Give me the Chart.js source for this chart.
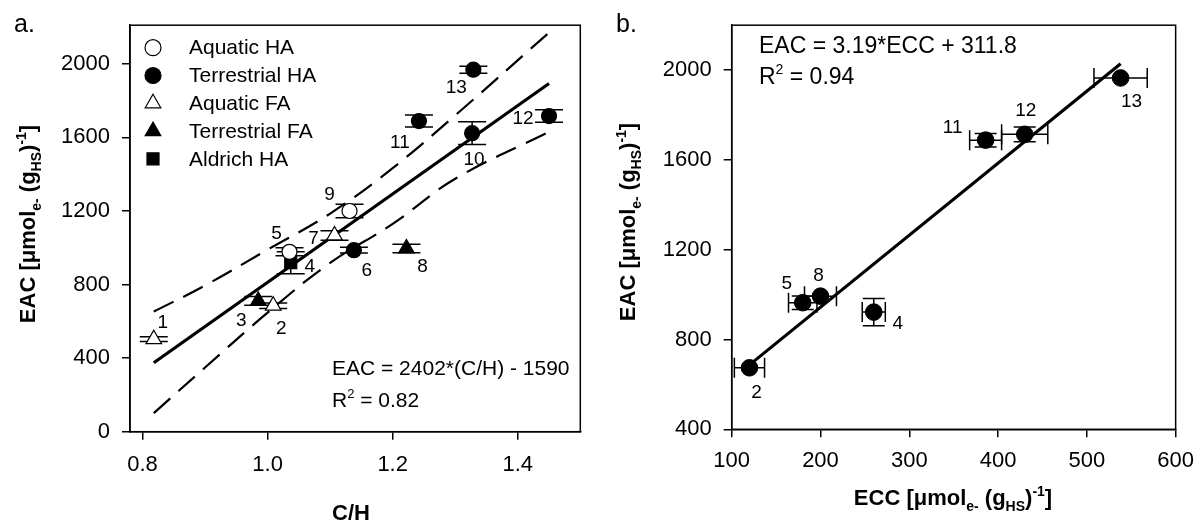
<!DOCTYPE html>
<html>
<head>
<meta charset="utf-8">
<script src="https://cdn.jsdelivr.net/npm/chart.js@4.4.1/dist/chart.umd.min.js"></script>
<style>
  html, body { margin: 0; padding: 0; background: #fff; }
  #wrap { position: relative; width: 1204px; height: 522px; }
  .panel { position: absolute; top: 0; height: 522px; }
  #pa { left: 0; width: 600px; }
  #pb { left: 600px; width: 604px; }
</style>
</head>
<body>
<div id="wrap">
  <div class="panel" id="pa"><canvas id="chartA"></canvas></div>
  <div class="panel" id="pb"><canvas id="chartB"></canvas></div>
</div>
<script>
// ---- panel a: EAC vs C/H ----
const idsA    = [1, 2, 3, 4, 5, 6, 7, 8, 9, 10, 11, 12, 13];
const groupA  = ['Aquatic FA', 'Aquatic FA', 'Terrestrial FA', 'Aldrich HA', 'Aquatic HA', 'Terrestrial HA',
                 'Aquatic FA', 'Terrestrial FA', 'Aquatic HA', 'Terrestrial HA', 'Terrestrial HA', 'Terrestrial HA', 'Terrestrial HA'];
const chA     = [0.818, 1.009, 0.985, 1.037, 1.035, 1.138, 1.107, 1.222, 1.131, 1.327, 1.242, 1.450, 1.329];
const eacA    = [503, 685, 711, 919, 978, 987, 1067, 996, 1200, 1623, 1689, 1716, 1968];
const eacErrA = [13, 15, 24, 60, 22, 16, 26, 23, 37, 62, 33, 34, 19];
const fitXA   = [0.818, 1.45];
const fitYA   = [375, 1893];
const bandXA  = [0.818, 0.9, 1.0, 1.1, 1.2, 1.3, 1.45];
const bandUpA = [653, 795, 990, 1186, 1433, 1720, 2170];
const bandLoA = [101, 349, 647, 918, 1130, 1375, 1630];
const xTicksA = [0.8, 1.0, 1.2, 1.4];
const yTicksA = [0, 400, 800, 1200, 1600, 2000];
const groupsA = ['Aquatic HA', 'Terrestrial HA', 'Aquatic FA', 'Terrestrial FA', 'Aldrich HA'];

// ---- panel b: EAC vs ECC ----
const idsB    = [2, 4, 5, 8, 11, 12, 13];
const eccB    = [120, 260, 180, 200, 386, 430, 538];
const eccErrB = [17, 13, 16, 18, 18, 26, 30];
const eacB    = [674, 922, 964, 993, 1688, 1714, 1965];
const eacErrB = [0, 61, 30, 0, 30, 33, 0];
const fitXB   = [120, 538];
const fitYB   = [687, 2028];
const xTicksB = [100, 200, 300, 400, 500, 600];
const yTicksB = [400, 800, 1200, 1600, 2000];

const FONT = 'Arial, "Liberation Sans", sans-serif';

// marker look per group (style only)
const markerStyle = {
  'Aquatic HA':     { pointStyle: 'circle',   radius: 7.5, fill: '#fff' },
  'Terrestrial HA': { pointStyle: 'circle',   radius: 7.5, fill: '#000' },
  'Aquatic FA':     { pointStyle: 'triangle', radius: 9,   fill: '#fff' },
  'Terrestrial FA': { pointStyle: 'triangle', radius: 9,   fill: '#000' },
  'Aldrich HA':     { pointStyle: 'rect',     radius: 8.5, fill: '#000' }
};

// where each number label sits relative to its point, in px
const labelOffA = { 1: [9, -16], 2: [8, 23], 3: [-17, 20], 4: [19, 4], 5: [-13, -18], 6: [13, 21], 7: [-21, 3],
                    8: [16, 18], 9: [-20, -16], 10: [2, 27], 11: [-19, 22], 12: [-26, 3], 13: [-17, 18] };
const labelOffB = { 2: [7, 25], 4: [24, 12], 5: [-16, -19], 8: [-2, -20], 11: [-33, -12], 12: [1, -24], 13: [11, 24] };

const yTitle = [['EAC [\u03bcmol', ''], ['e-', 'sub'], [' (g', ''], ['HS', 'sub'], [')', ''], ['-1', 'sup'], [']', '']];
const xTitleB = [['ECC [\u03bcmol', ''], ['e-', 'sub'], [' (g', ''], ['HS', 'sub'], [')', ''], ['-1', 'sup'], [']', '']];

function partFont(size, bold, kind) {
  const s = kind ? Math.round(size * 0.62) : size;
  return (bold ? 'bold ' : '') + s + 'px ' + FONT;
}
function richWidth(ctx, parts, size, bold) {
  let w = 0;
  parts.forEach(([t, k]) => { ctx.font = partFont(size, bold, k); w += ctx.measureText(t).width; });
  return w;
}
function drawRich(ctx, parts, x, y, size, bold, align) {
  let cx = align === 'center' ? x - richWidth(ctx, parts, size, bold) / 2 : x;
  ctx.textAlign = 'left';
  ctx.textBaseline = 'alphabetic';
  parts.forEach(([t, k]) => {
    ctx.font = partFont(size, bold, k);
    const dy = k === 'sub' ? size * 0.28 : k === 'sup' ? -size * 0.42 : 0;
    ctx.fillText(t, cx, y + dy);
    cx += ctx.measureText(t).width;
  });
}
function drawMarker(ctx, style, x, y, r, fill) {
  ctx.beginPath();
  if (style === 'circle') {
    ctx.arc(x, y, r, 0, Math.PI * 2);
  } else if (style === 'triangle') {
    for (let i = 0; i < 3; i++) {
      const a = i * 2 * Math.PI / 3;
      const px = x + Math.sin(a) * r, py = y - Math.cos(a) * r;
      i ? ctx.lineTo(px, py) : ctx.moveTo(px, py);
    }
    ctx.closePath();
  } else {
    const s = r * Math.SQRT1_2;
    ctx.rect(x - s, y - s, 2 * s, 2 * s);
  }
  ctx.fillStyle = fill;
  ctx.fill();
  ctx.lineWidth = 1.2;
  ctx.strokeStyle = '#000';
  ctx.stroke();
}

const decor = {
  id: 'decor',
  beforeDatasetsDraw(chart, args, o) {
    const ctx = chart.ctx, xs = chart.scales.x, ys = chart.scales.y;
    ctx.save();
    ctx.strokeStyle = '#000';
    ctx.lineWidth = 1.5;
    chart.data.datasets.forEach(ds => {
      if (!ds.ids) return;
      ds.data.forEach((p, i) => {
        const px = xs.getPixelForValue(p.x), py = ys.getPixelForValue(p.y);
        const ye = ds.yErr ? ds.yErr[i] : 0, xe = ds.xErr ? ds.xErr[i] : 0;
        ctx.beginPath();
        if (ye) {
          const t = ys.getPixelForValue(p.y + ye), b = ys.getPixelForValue(p.y - ye);
          ctx.moveTo(px, t); ctx.lineTo(px, b);
          ctx.moveTo(px - o.capY, t); ctx.lineTo(px + o.capY, t);
          ctx.moveTo(px - o.capY, b); ctx.lineTo(px + o.capY, b);
        }
        if (xe) {
          const l = xs.getPixelForValue(p.x - xe), r = xs.getPixelForValue(p.x + xe);
          ctx.moveTo(l, py); ctx.lineTo(r, py);
          ctx.moveTo(l, py - o.capX); ctx.lineTo(l, py + o.capX);
          ctx.moveTo(r, py - o.capX); ctx.lineTo(r, py + o.capX);
        }
        ctx.stroke();
      });
    });
    ctx.restore();
  },
  afterDraw(chart, args, o) {
    const ctx = chart.ctx, a = chart.chartArea, xs = chart.scales.x, ys = chart.scales.y;
    ctx.save();
    ctx.strokeStyle = '#000';
    ctx.lineWidth = 1.5;
    ctx.strokeRect(a.left, a.top, a.right - a.left, a.bottom - a.top);
    ctx.fillStyle = '#000';

    // number labels
    ctx.font = '19px ' + FONT;
    ctx.textAlign = 'center';
    ctx.textBaseline = 'middle';
    chart.data.datasets.forEach(ds => {
      if (!ds.ids) return;
      ds.data.forEach((p, i) => {
        const off = o.labelOff[ds.ids[i]];
        ctx.fillText(String(ds.ids[i]), xs.getPixelForValue(p.x) + off[0], ys.getPixelForValue(p.y) + off[1]);
      });
    });

    // legend
    if (o.legend) {
      chart.data.datasets.filter(ds => ds.inLegend).forEach((ds, i) => {
        const y = o.legend.y + i * o.legend.step;
        drawMarker(ctx, ds.pointStyle, o.legend.x, y, ds.legendR, ds.pointBackgroundColor);
        ctx.fillStyle = '#000';
        ctx.font = '21px ' + FONT;
        ctx.textAlign = 'left';
        ctx.textBaseline = 'middle';
        ctx.fillText(ds.label, o.legend.tx, y + 1);
      });
    }

    // equation
    drawRich(ctx, [[o.eq.text, '']], o.eq.x, o.eq.y, o.eq.size, false, 'left');
    drawRich(ctx, [['R', ''], ['2', 'sup'], [' = ' + o.eq.r2, '']], o.eq.x, o.eq.y + o.eq.gap, o.eq.size, false, 'left');

    // panel letter
    ctx.font = '25px ' + FONT;
    ctx.textAlign = 'left';
    ctx.textBaseline = 'alphabetic';
    ctx.fillText(o.letter.text, o.letter.x, o.letter.y);

    // axis titles
    drawRich(ctx, o.xTitle.parts, o.xTitle.x, o.xTitle.y, 22, true, 'center');
    ctx.save();
    ctx.translate(o.yTitle.x, o.yTitle.y);
    ctx.rotate(-Math.PI / 2);
    drawRich(ctx, yTitle, 0, 0, 22, true, 'center');
    ctx.restore();
    ctx.restore();
  }
};

function axes(min, max, ticks, fmt, yMin, yMax, yTicks, dims) {
  const grid = { display: true, drawOnChartArea: false, drawTicks: true, tickLength: 8, color: '#000', lineWidth: 1.5 };
  const tickFont = { family: FONT, size: 22 };
  return {
    x: {
      type: 'linear', min: min, max: max,
      grid: grid, border: { display: true, color: '#000', width: 1.5 },
      ticks: { color: '#000', font: tickFont, padding: dims.xPad, callback: fmt, maxRotation: 0 },
      afterBuildTicks: s => { s.ticks = ticks.map(v => ({ value: v })); },
      afterFit: s => { s.height = dims.xH; }
    },
    y: {
      type: 'linear', min: yMin, max: yMax,
      grid: grid, border: { display: true, color: '#000', width: 1.5 },
      ticks: { color: '#000', font: tickFont, padding: 12, callback: v => String(v) },
      afterBuildTicks: s => { s.ticks = yTicks.map(v => ({ value: v })); },
      afterFit: s => { s.width = dims.yW; }
    }
  };
}

function lineSet(xv, yv, width, dash) {
  return {
    type: 'scatter', showLine: true, data: xv.map((x, i) => ({ x: x, y: yv[i] })),
    borderColor: '#000', borderWidth: width, borderDash: dash, pointRadius: 0,
    tension: dash.length ? 0.4 : 0, fill: false, order: 5
  };
}

// panel a datasets, one per group
const pointSetsA = groupsA.map(g => {
  const idx = idsA.map((_, i) => i).filter(i => groupA[i] === g);
  const st = markerStyle[g];
  return {
    label: g, inLegend: true, legendR: st.pointStyle === 'circle' ? 8 : st.radius,
    ids: idx.map(i => idsA[i]),
    yErr: idx.map(i => eacErrA[i]),
    data: idx.map(i => ({ x: chA[i], y: eacA[i] })),
    pointStyle: st.pointStyle, pointRadius: st.radius,
    pointBackgroundColor: st.fill, pointBorderColor: '#000', pointBorderWidth: 1.2,
    order: 1
  };
});

new Chart(document.getElementById('chartA'), {
  type: 'scatter',
  data: {
    datasets: pointSetsA.concat([
      lineSet(fitXA, fitYA, 3.2, []),
      lineSet(bandXA, bandUpA, 2.2, [22, 11]),
      lineSet(bandXA, bandLoA, 2.2, [22, 11])
    ])
  },
  options: {
    responsive: true, maintainAspectRatio: false, animation: false,
    layout: { padding: { left: 0, right: 19.7, top: 17.3, bottom: 0 } },
    scales: axes(0.78, 1.5, xTicksA, v => Number(v).toFixed(1), 0, 2210, yTicksA, { xH: 90.3, yW: 130, xPad: 12 }),
    plugins: {
      legend: { display: false }, tooltip: { enabled: false },
      decor: {
        capY: 14, capX: 10, labelOff: labelOffA,
        legend: { x: 153, tx: 189, y: 47.7, step: 27.8 },
        eq: { text: 'EAC = 2402*(C/H) - 1590', r2: '0.82', x: 332, y: 375, gap: 32, size: 21 },
        letter: { text: 'a.', x: 14, y: 32 },
        xTitle: { parts: [['C/H', '']], x: 351, y: 520 },
        yTitle: { x: 35, y: 224 }
      }
    }
  },
  plugins: [decor]
});

new Chart(document.getElementById('chartB'), {
  type: 'scatter',
  data: {
    datasets: [
      {
        label: 'samples', ids: idsB, xErr: eccErrB, yErr: eacErrB,
        data: idsB.map((_, i) => ({ x: eccB[i], y: eacB[i] })),
        pointStyle: 'circle', pointRadius: 8.3,
        pointBackgroundColor: '#000', pointBorderColor: '#000', pointBorderWidth: 1, order: 1
      },
      lineSet(fitXB, fitYB, 3.2, [])
    ]
  },
  options: {
    responsive: true, maintainAspectRatio: false, animation: false,
    layout: { padding: { left: 0, right: 22, top: 14.3, bottom: 0 } },
    scales: axes(100, 600, xTicksB, v => String(v), 400, 2200, yTicksB, { xH: 92.7, yW: 131.7, xPad: 10 }),
    plugins: {
      legend: { display: false }, tooltip: { enabled: false },
      decor: {
        capY: 11, capX: 10, labelOff: labelOffB,
        eq: { text: 'EAC = 3.19*ECC + 311.8', r2: '0.94', x: 159, y: 53, gap: 31, size: 23 },
        letter: { text: 'b.', x: 16, y: 32 },
        xTitle: { parts: xTitleB, x: 353, y: 505 },
        yTitle: { x: 35, y: 222 }
      }
    }
  },
  plugins: [decor]
});
</script>
</body>
</html>
